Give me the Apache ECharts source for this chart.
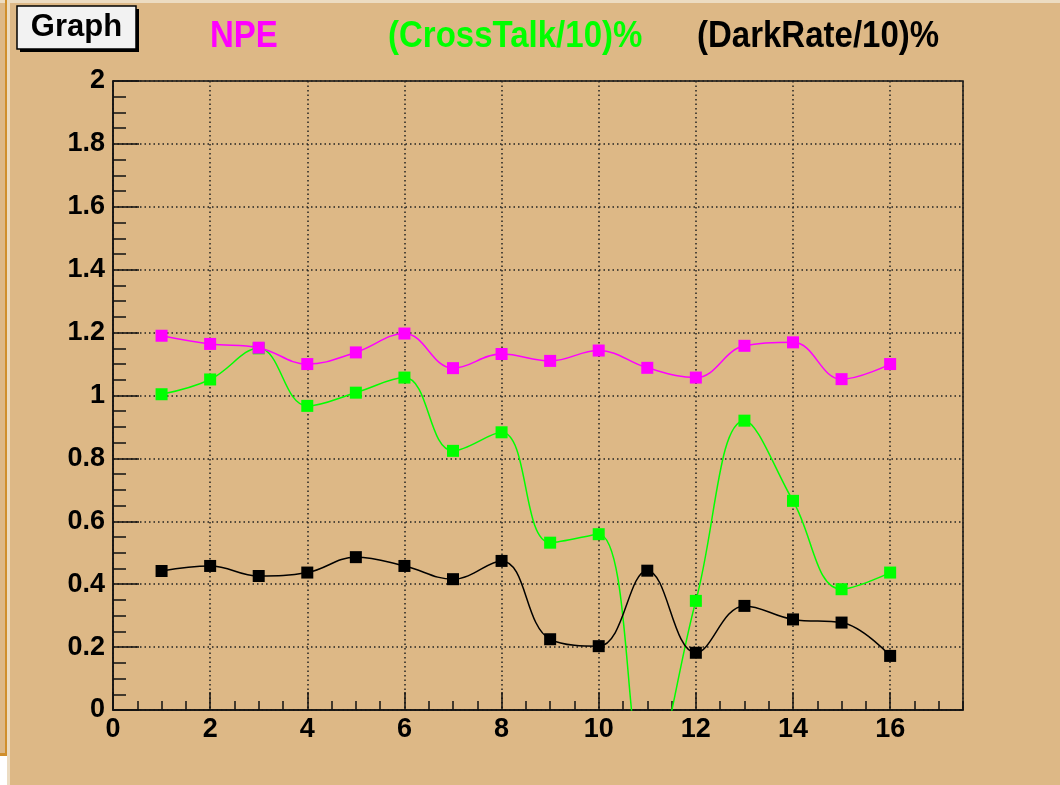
<!DOCTYPE html>
<html>
<head>
<meta charset="utf-8">
<title>Graph</title>
<script src="https://cdn.jsdelivr.net/npm/echarts@6/dist/echarts.min.js"></script>
<style>
  html, body { margin: 0; padding: 0; background: #ddb886; }
  #chart { width: 1060px; height: 785px; }
</style>
</head>
<body>
<div id="chart"></div>
<script>
// channel number
var channels = [1, 2, 3, 4, 5, 6, 7, 8, 9, 10, 11, 12, 13, 14, 15, 16];
// values
var npe = [1.19, 1.164, 1.152, 1.10, 1.137, 1.197, 1.087, 1.132, 1.11, 1.143, 1.088, 1.057, 1.158, 1.169, 1.052, 1.10];
var crossTalk = [1.004, 1.051, 1.15, 0.967, 1.009, 1.057, 0.824, 0.883, 0.532, 0.559, -0.22, 0.347, 0.92, 0.665, 0.384, 0.437];
var darkRate = [0.442, 0.458, 0.426, 0.437, 0.486, 0.458, 0.416, 0.474, 0.225, 0.203, 0.443, 0.182, 0.331, 0.288, 0.278, 0.172];

var labelFont = 'Liberation Sans';
var chart = echarts.init(document.getElementById('chart'));

function pairs(ys) {
    var out = [];
    for (var i = 0; i < channels.length; i++) {
        out.push([channels[i], ys[i]]);
    }
    return out;
}

function lineSeries(name, ys, color, z) {
    return {
        name: name,
        type: 'line',
        data: pairs(ys),
        smooth: 0.4,
        symbol: 'rect',
        symbolSize: 12,
        z: z,
        clip: true,
        lineStyle: { color: color, width: 1.5 },
        itemStyle: { color: color },
        animation: false
    };
}

chart.setOption({
    backgroundColor: '#ddb886',
    animation: false,
    grid: {
        left: 113, top: 81, right: 97, bottom: 75,
        show: true,
        borderColor: '#111',
        borderWidth: 1.5,
        backgroundColor: 'transparent'
    },
    xAxis: [{
        type: 'value',
        min: 0, max: 17.5, interval: 2,
        axisLine: { show: true, lineStyle: { color: '#111', width: 1.5 } },
        axisTick: { show: true, inside: true, length: 18, lineStyle: { color: '#111', width: 1.5 } },
        axisLabel: {
            showMaxLabel: false,
            margin: 6,
            color: '#000',
            fontFamily: labelFont,
            fontWeight: 'bold',
            fontSize: 27
        },
        splitLine: { show: true, lineStyle: { color: '#222', type: [1.5, 3], width: 1.5 } }
    }, {
        // minor ticks every 0.5
        type: 'value',
        position: 'bottom',
        min: 0, max: 17.5, interval: 0.5,
        axisLine: { show: false },
        axisTick: { show: true, inside: true, length: 9, lineStyle: { color: '#111', width: 1.5 } },
        axisLabel: { show: false },
        splitLine: { show: false }
    }],
    yAxis: {
        type: 'value',
        min: 0, max: 2, interval: 0.2,
        axisLine: { show: true, lineStyle: { color: '#111', width: 1.5 } },
        axisTick: { show: true, inside: true, length: 26, lineStyle: { color: '#111', width: 1.5 } },
        minorTick: { show: true, splitNumber: 4, length: 13, lineStyle: { color: '#111', width: 1.5 } },
        axisLabel: {
            margin: 8,
            color: '#000',
            fontFamily: labelFont,
            fontWeight: 'bold',
            fontSize: 27
        },
        splitLine: { show: true, lineStyle: { color: '#222', type: [1.5, 3], width: 1.5 } }
    },
    series: [
        lineSeries('(CrossTalk/10)%', crossTalk, '#00ff00', 2),
        lineSeries('(DarkRate/10)%', darkRate, '#000000', 3),
        lineSeries('NPE', npe, '#ff00ff', 4)
    ],
    graphic: [
        // canvas edges
        { type: 'rect', shape: { x: 0, y: 0, width: 1060, height: 3 }, style: { fill: '#ecdcc2' }, silent: true },
        { type: 'rect', shape: { x: 7, y: 0, width: 3, height: 785 }, style: { fill: '#ecdcc2' }, silent: true },
        { type: 'rect', shape: { x: 5, y: 0, width: 2, height: 756 }, style: { fill: '#d08f2c' }, silent: true },
        { type: 'rect', shape: { x: 0, y: 753, width: 7, height: 3 }, style: { fill: '#d08f2c' }, silent: true },
        { type: 'rect', shape: { x: 0, y: 756, width: 7, height: 29 }, style: { fill: '#ffffff' }, silent: true },
        // "Graph" title box
        { type: 'rect', shape: { x: 20, y: 9, width: 119, height: 43 }, style: { fill: '#000' }, silent: true },
        { type: 'rect', shape: { x: 17, y: 6, width: 119, height: 43 }, style: { fill: '#f2f2f2', stroke: '#000', lineWidth: 1.5 }, silent: true },
        {
            type: 'text', x: 76.5, y: 27.5,
            style: { text: 'Graph', fill: '#000', font: 'bold 31px "Liberation Sans"', textAlign: 'center', textVerticalAlign: 'middle' }
        },
        // series captions
        {
            type: 'text', x: 210, y: 37, scaleY: 1.14,
            style: { text: 'NPE', fill: '#ff00ff', font: 'bold 33px "Liberation Sans"', textVerticalAlign: 'middle' }
        },
        {
            type: 'text', x: 388, y: 37, scaleY: 1.14,
            style: { text: '(CrossTalk/10)%', fill: '#00ff00', font: 'bold 33px "Liberation Sans"', textVerticalAlign: 'middle' }
        },
        {
            type: 'text', x: 697, y: 37, scaleY: 1.14,
            style: { text: '(DarkRate/10)%', fill: '#000000', font: 'bold 33px "Liberation Sans"', textVerticalAlign: 'middle' }
        }
    ]
});
</script>
</body>
</html>
